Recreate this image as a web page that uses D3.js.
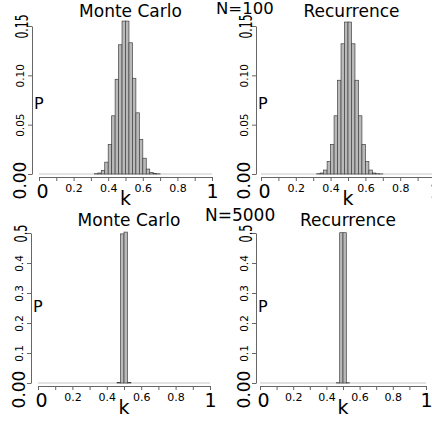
<!DOCTYPE html>
<html>
<head>
<meta charset="utf-8">
<script src="https://cdn.jsdelivr.net/npm/d3@7"></script>
<style>
  html, body { margin: 0; padding: 0; background: #fff; }
  svg { display: block; font-family: "DejaVu Sans", sans-serif; }
</style>
</head>
<body>
<div id="chart"></div>
<script>
// bin lower edges (width 0.02) and histogram heights
const binsN100 = [0.32, 0.34, 0.36, 0.38, 0.40, 0.42, 0.44, 0.46, 0.48, 0.50,
                  0.52, 0.54, 0.56, 0.58, 0.60, 0.62, 0.64, 0.66, 0.68];
const monteCarlo100 = [0.0003, 0.001, 0.0037, 0.012, 0.030, 0.059, 0.096, 0.131, 0.155, 0.155,
                       0.133, 0.097, 0.062, 0.035, 0.016, 0.005, 0.0014, 0.0005, 0.0002];
const recurrence100 = [0.0003, 0.001, 0.004, 0.0126, 0.030, 0.059, 0.095, 0.132, 0.154, 0.154,
                       0.132, 0.095, 0.059, 0.030, 0.0126, 0.004, 0.001, 0.0003, 0.0001];

const binsN5000 = [0.46, 0.48, 0.50, 0.52];
const monteCarlo5000 = [0.002, 0.497, 0.503, 0.002];
const recurrence5000 = [0.001, 0.501, 0.501, 0.001];

const binWidth = 0.02;

const xTicks = [0, 0.1, 0.2, 0.3, 0.4, 0.5, 0.6, 0.7, 0.8, 0.9, 1];
const xLabels = {0: "0", 0.2: "0.2", 0.4: "0.4", 0.6: "0.6", 0.8: "0.8", 1: "1"};
const yTicksTop = [0, 0.05, 0.10, 0.15];
const yLabelsTop = ["0.00", "0.05", "0.10", "0.15"];
const yTicksBottom = [0, 0.1, 0.2, 0.3, 0.4, 0.5];
const yLabelsBottom = ["0.00", "0.1", "0.2", "0.3", "0.4", "0.5"];

const titles = ["Monte Carlo", "Recurrence", "Monte Carlo", "Recurrence"];
const rowLabels = ["N=100", "N=5000"];

const width = 432, height = 421;

const svg = d3.select("#chart")
    .append("svg")
    .attr("width", width)
    .attr("height", height);

// panel layout (pixels)
const panels = [
    {bins: binsN100, vals: monteCarlo100, title: titles[0], axisX: 32, x0: 39, x1: 212,
     y0: 174, y1: 26, yMax: 0.15, yTicks: yTicksTop, yLabels: yLabelsTop, topLen: 24, top: 0},
    {bins: binsN100, vals: recurrence100, title: titles[1], axisX: 256, x0: 261, x1: 435,
     y0: 174, y1: 26, yMax: 0.15, yTicks: yTicksTop, yLabels: yLabelsTop, topLen: 24, top: 0},
    {bins: binsN5000, vals: monteCarlo5000, title: titles[2], axisX: 31, x0: 38, x1: 210,
     y0: 383, y1: 233, yMax: 0.5, yTicks: yTicksBottom, yLabels: yLabelsBottom, topLen: 18, top: 209},
    {bins: binsN5000, vals: recurrence5000, title: titles[3], axisX: 256, x0: 260, x1: 426,
     y0: 383, y1: 233, yMax: 0.5, yTicks: yTicksBottom, yLabels: yLabelsBottom, topLen: 18, top: 209}
];

panels.forEach(function(p) {
    const xScale = d3.scaleLinear().domain([0, 1]).range([p.x0, p.x1]);
    const yScale = d3.scaleLinear().domain([0, p.yMax]).range([p.y0, p.y1]);
    const g = svg.append("g");

    // light baseline of empty bins
    g.append("line")
        .attr("x1", xScale(0))
        .attr("x2", xScale(1))
        .attr("y1", yScale(0))
        .attr("y2", yScale(0))
        .attr("stroke", "#c8c8c8")
        .attr("stroke-width", 1.2);

    // bars
    const data = p.bins.map(function(b, i) { return {b: b, v: p.vals[i]}; });
    g.selectAll("rect.bar")
        .data(data)
        .join("rect")
        .attr("class", "bar")
        .attr("x", function(d) { return xScale(d.b); })
        .attr("width", function(d) { return xScale(d.b + binWidth) - xScale(d.b); })
        .attr("y", function(d) { return yScale(d.v); })
        .attr("height", function(d) { return yScale(0) - yScale(d.v); })
        .attr("fill", "#b9b9b9")
        .attr("stroke", "#404040")
        .attr("stroke-width", 0.7);

    // x axis
    const xAxis = g.append("g")
        .attr("transform", `translate(0,${p.y0 + 3})`)
        .call(d3.axisBottom(xScale)
            .tickValues(xTicks)
            .tickSize(4)
            .tickSizeOuter(0)
            .tickFormat(function(d) { return xLabels[Math.round(d * 10) / 10] || ""; }));
    xAxis.select(".domain").attr("stroke", "#666");
    xAxis.selectAll(".tick line").attr("stroke", "#666");
    xAxis.selectAll("text")
        .attr("dy", null)
        .attr("fill", "#000")
        .attr("font-family", "DejaVu Sans, sans-serif")
        .attr("font-size", function(d) { return (d === 0 || d === 1) ? 19 : 11; })
        .attr("y", function(d) { return (d === 0 || d === 1) ? 21 : 15; })
        .attr("x", function(d) { return d === 0 ? 3 : 0; });

    // y axis
    const yAxis = g.append("g")
        .attr("transform", `translate(${p.axisX},0)`)
        .call(d3.axisLeft(yScale)
            .tickValues(p.yTicks)
            .tickSize(4)
            .tickSizeOuter(0)
            .tickFormat(function(d, i) { return p.yLabels[i]; }));
    yAxis.select(".domain").attr("stroke", "#666");
    yAxis.selectAll(".tick line").attr("stroke", "#666");
    const nT = p.yTicks.length;
    yAxis.selectAll("text")
        .attr("dy", null)
        .attr("fill", "#000")
        .attr("font-family", "DejaVu Sans, sans-serif")
        .attr("text-anchor", "middle")
        .attr("transform", "rotate(-90)")
        .attr("font-size", function(d, i) { return (i === 0 || i === nT - 1) ? 17 : 10.5; })
        .attr("x", function(d, i) { return i === 0 ? -6 : 0; })
        .attr("y", function(d, i) { return (i === 0) ? -6 : (i === nT - 1 ? -4 : -8); })
        .each(function(d, i) {
            if (i === nT - 1) {
                d3.select(this)
                    .attr("textLength", p.topLen)
                    .attr("lengthAdjust", "spacingAndGlyphs");
            }
        });

    // title
    g.append("text")
        .attr("x", (p.x0 + Math.min(p.x1, width)) / 2 + 5)
        .attr("y", p.top + 17)
        .attr("text-anchor", "middle")
        .attr("font-size", 17)
        .text(p.title);

    // axis labels
    g.append("text")
        .attr("x", p.axisX + 2)
        .attr("y", p.top + (p.top === 0 ? 109 : 103))
        .attr("font-size", 16)
        .text("P");

    g.append("text")
        .attr("x", xScale(0.5))
        .attr("y", p.top + 205)
        .attr("text-anchor", "middle")
        .attr("font-size", 19)
        .text("k");
});

// row labels
svg.append("text")
    .attr("x", 216)
    .attr("y", 14)
    .attr("font-size", 16.5)
    .text(rowLabels[0]);

svg.append("text")
    .attr("x", 205)
    .attr("y", 221)
    .attr("font-size", 17)
    .text(rowLabels[1]);
</script>
</body>
</html>
